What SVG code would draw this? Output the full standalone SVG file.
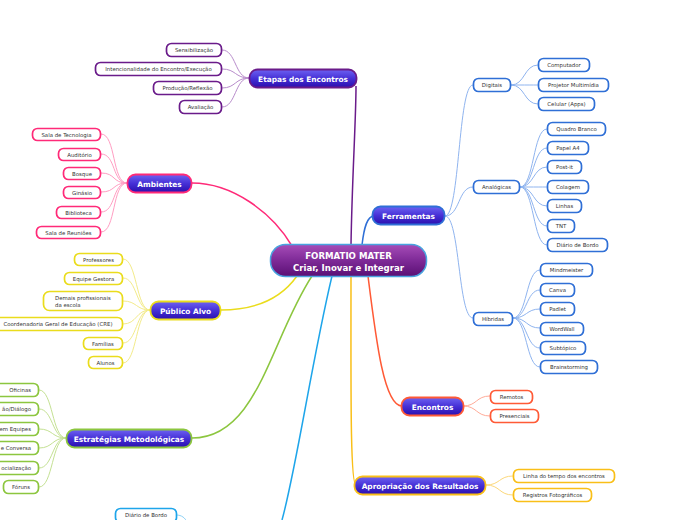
<svg xmlns="http://www.w3.org/2000/svg" width="696" height="520" viewBox="0 0 696 520">
<defs>
<linearGradient id="gMain" x1="0" y1="0" x2="0" y2="1">
<stop offset="0" stop-color="#6d62f2"/>
<stop offset="0.5" stop-color="#4630d6"/>
<stop offset="1" stop-color="#2a0fae"/>
</linearGradient>
<linearGradient id="gCenter" x1="0" y1="0" x2="0" y2="1">
<stop offset="0" stop-color="#a64cb8"/>
<stop offset="0.5" stop-color="#7e2a97"/>
<stop offset="1" stop-color="#5a0f74"/>
</linearGradient>
<style>
.main rect{fill:url(#gMain);stroke-width:1.8}
.main text{fill:#fff;font-family:"DejaVu Sans",Verdana,sans-serif;font-weight:bold;font-size:7.4px;text-anchor:middle}
.leaf rect{fill:#fff;stroke-width:1.7}
.leaf text{fill:#333;font-family:"DejaVu Sans",Verdana,sans-serif;font-size:5.4px;text-anchor:middle}
.c{fill:none}
.p{stroke:#6a1b8a}.pk{stroke:#ff2a78}.y{stroke:#eadc1c}.g{stroke:#8cc63f}.cy{stroke:#1ea5ea}.b{stroke:#2f6fd6}.o{stroke:#ff5a36}.a{stroke:#f9bf18}
.m{stroke-width:1.5}
.s{stroke-width:1}
.p2{stroke:#b88ccb}.pk2{stroke:#ff9dc2}.y2{stroke:#f3eb8a}.g2{stroke:#c4e193}.cy2{stroke:#8fd2f5}.b2{stroke:#8fb4ef}.o2{stroke:#ffab98}.a2{stroke:#fcd87a}
</style>
</defs>
<g id="connectors">
<path class="c m p" d="M351,245 C352,180 356,120 356,86"/>
<path class="c m pk" d="M292,246 C272,212 232,183 192,183"/>
<path class="c m b" d="M362,245 C364,228 367,216 374,216"/>
<path class="c m y" d="M297,276 C280,300 252,310 221,310"/>
<path class="c m g" d="M312,276 C270,340 258,438 192,438"/>
<path class="c m cy" d="M332,276 C312,360 296,470 282,520"/>
<path class="c m a" d="M351,276 C351,380 350,485 356,485"/>
<path class="c m o" d="M368,276 C376,340 384,406 402,406"/>
<path class="c s p2" d="M249,78 C235,78 236,50 222,50"/>
<path class="c s p2" d="M249,78 C235,78 236,69 222,69"/>
<path class="c s p2" d="M249,78 C235,78 236,88 222,88"/>
<path class="c s p2" d="M249,78 C235,78 236,107 222,107"/>
<path class="c s pk2" d="M127,183 C112,183 116,134 101,134"/>
<path class="c s pk2" d="M127,183 C112,183 116,154 101,154"/>
<path class="c s pk2" d="M127,183 C112,183 116,173 101,173"/>
<path class="c s pk2" d="M127,183 C112,183 116,192 101,192"/>
<path class="c s pk2" d="M127,183 C112,183 116,212 101,212"/>
<path class="c s pk2" d="M127,183 C112,183 116,232 101,232"/>
<path class="c s y2" d="M150,310 C136,310 137,259 123,259"/>
<path class="c s y2" d="M150,310 C136,310 137,278 123,278"/>
<path class="c s y2" d="M150,310 C136,310 137,301 123,301"/>
<path class="c s y2" d="M150,310 C136,310 137,324 123,324"/>
<path class="c s y2" d="M150,310 C136,310 137,343 123,343"/>
<path class="c s y2" d="M150,310 C136,310 137,363 123,363"/>
<path class="c s g2" d="M66,438 C52,438 53,390 39,390"/>
<path class="c s g2" d="M66,438 C52,438 53,409 39,409"/>
<path class="c s g2" d="M66,438 C52,438 53,429 39,429"/>
<path class="c s g2" d="M66,438 C52,438 53,448 39,448"/>
<path class="c s g2" d="M66,438 C52,438 53,468 39,468"/>
<path class="c s g2" d="M66,438 C52,438 53,487 39,487"/>
<path class="c s cy2" d="M176,515 C182,515 185,518 187,522"/>
<path class="c s b2" d="M445,216 C460,216 458,85 473,85"/>
<path class="c s b2" d="M445,216 C460,216 458,187 473,187"/>
<path class="c s b2" d="M445,216 C460,216 458,318 473,318"/>
<path class="c s b2" d="M511,85 C525,85 524,65 538,65"/>
<path class="c s b2" d="M511,85 C525,85 524,85 538,85"/>
<path class="c s b2" d="M511,85 C525,85 524,104 538,104"/>
<path class="c s b2" d="M520,187 C534,187 533,129 547,129"/>
<path class="c s b2" d="M520,187 C534,187 533,148 547,148"/>
<path class="c s b2" d="M520,187 C534,187 533,167 547,167"/>
<path class="c s b2" d="M520,187 C534,187 533,187 547,187"/>
<path class="c s b2" d="M520,187 C534,187 533,206 547,206"/>
<path class="c s b2" d="M520,187 C534,187 533,226 547,226"/>
<path class="c s b2" d="M520,187 C534,187 533,245 547,245"/>
<path class="c s b2" d="M513,318 C527,318 526,270 540,270"/>
<path class="c s b2" d="M513,318 C527,318 526,290 540,290"/>
<path class="c s b2" d="M513,318 C527,318 526,309 540,309"/>
<path class="c s b2" d="M513,318 C527,318 526,328 540,328"/>
<path class="c s b2" d="M513,318 C527,318 526,348 540,348"/>
<path class="c s b2" d="M513,318 C527,318 526,367 540,367"/>
<path class="c s o2" d="M463,406 C477,406 476,396 490,396"/>
<path class="c s o2" d="M463,406 C477,406 476,416 490,416"/>
<path class="c s a2" d="M486,485 C500,485 499,476 513,476"/>
<path class="c s a2" d="M486,485 C500,485 499,495 513,495"/>
</g>

<g id="center">
<rect x="270.5" y="244.5" width="156" height="32" rx="15" fill="url(#gCenter)" stroke="#4aa3df" stroke-width="1.5"/>
<text x="348.5" y="258.5" fill="#fff" font-family="DejaVu Sans, Verdana, sans-serif" font-weight="bold" font-size="8.6" text-anchor="middle">FORMATIO MATER</text>
<text x="348.5" y="270.5" fill="#fff" font-family="DejaVu Sans, Verdana, sans-serif" font-weight="bold" font-size="8.6" text-anchor="middle">Criar, Inovar e Integrar</text>
</g>

<g id="etapas" class="main"><rect x="249.5" y="69.5" width="107" height="18" rx="8" stroke="#6a1b8a"/><text x="303" y="81.5">Etapas dos Encontros</text></g>
<g id="etapas-1" class="leaf"><rect x="166.5" y="43.5" width="55" height="13" rx="5" stroke="#6a1b8a"/><text x="194" y="52">Sensibilização</text></g>
<g id="etapas-2" class="leaf"><rect x="95.5" y="62.5" width="126" height="13" rx="5" stroke="#6a1b8a"/><text x="158.5" y="71">Intencionalidade do Encontro/Execução</text></g>
<g id="etapas-3" class="leaf"><rect x="153.5" y="81.5" width="68" height="13" rx="5" stroke="#6a1b8a"/><text x="187.5" y="90">Produção/Reflexão</text></g>
<g id="etapas-4" class="leaf"><rect x="179.5" y="100.5" width="42" height="13" rx="5" stroke="#6a1b8a"/><text x="200.5" y="109">Avaliação</text></g>

<g id="ambientes" class="main"><rect x="127.5" y="174.5" width="64" height="18" rx="8" stroke="#ff2a78"/><text x="159.5" y="186.5">Ambientes</text></g>
<g id="amb-1" class="leaf"><rect x="32.5" y="128.5" width="68" height="12" rx="5" stroke="#ff2a78"/><text x="66.5" y="136.5">Sala de Tecnologia</text></g>
<g id="amb-2" class="leaf"><rect x="58.5" y="148.5" width="42" height="12" rx="5" stroke="#ff2a78"/><text x="79.5" y="156.5">Auditório</text></g>
<g id="amb-3" class="leaf"><rect x="63.5" y="167.5" width="37" height="12" rx="5" stroke="#ff2a78"/><text x="82" y="175.5">Bosque</text></g>
<g id="amb-4" class="leaf"><rect x="63.5" y="186.5" width="37" height="12" rx="5" stroke="#ff2a78"/><text x="82" y="194.5">Ginásio</text></g>
<g id="amb-5" class="leaf"><rect x="56.5" y="206.5" width="44" height="12" rx="5" stroke="#ff2a78"/><text x="78.5" y="214.5">Biblioteca</text></g>
<g id="amb-6" class="leaf"><rect x="36.5" y="226.5" width="64" height="12" rx="5" stroke="#ff2a78"/><text x="68.5" y="234.5">Sala de Reuniões</text></g>

<g id="publico" class="main"><rect x="150.5" y="301.5" width="70" height="18" rx="8" stroke="#eadc1c"/><text x="185.5" y="313.5">Público Alvo</text></g>
<g id="pub-1" class="leaf"><rect x="74.5" y="253.5" width="48" height="12" rx="5" stroke="#eadc1c"/><text x="98.5" y="261.5">Professores</text></g>
<g id="pub-2" class="leaf"><rect x="64.5" y="272.5" width="58" height="12" rx="5" stroke="#eadc1c"/><text x="93.5" y="280.5">Equipe Gestora</text></g>
<g id="pub-3" class="leaf"><rect x="43.5" y="291.5" width="79" height="19" rx="6" stroke="#eadc1c"/><text x="55" y="299.5" style="text-anchor:start">Demais profissionais</text><text x="55" y="306.5" style="text-anchor:start">da escola</text></g>
<g id="pub-4" class="leaf"><rect x="-6.5" y="317.5" width="129" height="13" rx="5" stroke="#eadc1c"/><text x="58" y="326">Coordenadoria Geral de Educação (CRE)</text></g>
<g id="pub-5" class="leaf"><rect x="83.5" y="337.5" width="39" height="12" rx="5" stroke="#eadc1c"/><text x="103" y="345.5">Famílias</text></g>
<g id="pub-6" class="leaf"><rect x="88.5" y="356.5" width="34" height="12" rx="5" stroke="#eadc1c"/><text x="105.5" y="364.5">Alunos</text></g>

<g id="estrategias" class="main"><rect x="66.5" y="429.5" width="125" height="18" rx="8" stroke="#8cc63f"/><text x="129" y="441.5">Estratégias Metodológicas</text></g>
<g id="est-1" class="leaf"><rect x="-10.5" y="383.5" width="49" height="13" rx="5" stroke="#8cc63f"/><text x="31" y="392" style="text-anchor:end">Oficinas</text></g>
<g id="est-2" class="leaf"><rect x="-10.5" y="402.5" width="49" height="13" rx="5" stroke="#8cc63f"/><text x="31" y="411" style="text-anchor:end">ão/Diálogo</text></g>
<g id="est-3" class="leaf"><rect x="-10.5" y="422.5" width="49" height="13" rx="5" stroke="#8cc63f"/><text x="31" y="431" style="text-anchor:end">em Equipes</text></g>
<g id="est-4" class="leaf"><rect x="-10.5" y="441.5" width="49" height="13" rx="5" stroke="#8cc63f"/><text x="31" y="450" style="text-anchor:end">e Conversa</text></g>
<g id="est-5" class="leaf"><rect x="-10.5" y="461.5" width="49" height="13" rx="5" stroke="#8cc63f"/><text x="31" y="470" style="text-anchor:end">ocialização</text></g>
<g id="est-6" class="leaf"><rect x="3.5" y="480.5" width="35" height="13" rx="5" stroke="#8cc63f"/><text x="21" y="489">Fóruns</text></g>

<g id="diario-cyan" class="leaf"><rect x="115.5" y="508.5" width="61" height="14" rx="5" stroke="#1ea5ea"/><text x="146" y="517">Diário de Bordo</text></g>

<g id="ferramentas" class="main"><rect x="372.5" y="206.5" width="72" height="18" rx="8" stroke="#2f6fd6"/><text x="408.5" y="218.5">Ferramentas</text></g>
<g id="digitais" class="leaf"><rect x="473.5" y="78.5" width="37" height="13" rx="5" stroke="#2f6fd6"/><text x="492" y="87">Digitais</text></g>
<g id="analogicas" class="leaf"><rect x="473.5" y="180.5" width="46" height="13" rx="5" stroke="#2f6fd6"/><text x="496.5" y="189">Analógicas</text></g>
<g id="hibridas" class="leaf"><rect x="473.5" y="312.5" width="39" height="13" rx="5" stroke="#2f6fd6"/><text x="493" y="321">Híbridas</text></g>
<g id="dig-1" class="leaf"><rect x="538.5" y="58.5" width="51" height="13" rx="5" stroke="#2f6fd6"/><text x="564" y="67">Computador</text></g>
<g id="dig-2" class="leaf"><rect x="538.5" y="78.5" width="70" height="13" rx="5" stroke="#2f6fd6"/><text x="573.5" y="87">Projetor Multimídia</text></g>
<g id="dig-3" class="leaf"><rect x="538.5" y="97.5" width="56" height="13" rx="5" stroke="#2f6fd6"/><text x="566.5" y="106">Celular (Apps)</text></g>
<g id="ana-1" class="leaf"><rect x="547.5" y="122.5" width="58" height="13" rx="5" stroke="#2f6fd6"/><text x="576.5" y="131">Quadro Branco</text></g>
<g id="ana-2" class="leaf"><rect x="547.5" y="141.5" width="41" height="13" rx="5" stroke="#2f6fd6"/><text x="568" y="150">Papel A4</text></g>
<g id="ana-3" class="leaf"><rect x="547.5" y="160.5" width="34" height="13" rx="5" stroke="#2f6fd6"/><text x="564.5" y="169">Post-it</text></g>
<g id="ana-4" class="leaf"><rect x="547.5" y="180.5" width="41" height="13" rx="5" stroke="#2f6fd6"/><text x="568" y="189">Colagem</text></g>
<g id="ana-5" class="leaf"><rect x="547.5" y="199.5" width="34" height="13" rx="5" stroke="#2f6fd6"/><text x="564.5" y="208">Linhas</text></g>
<g id="ana-6" class="leaf"><rect x="547.5" y="219.5" width="27" height="13" rx="5" stroke="#2f6fd6"/><text x="561" y="228">TNT</text></g>
<g id="ana-7" class="leaf"><rect x="547.5" y="238.5" width="60" height="13" rx="5" stroke="#2f6fd6"/><text x="577.5" y="247">Diário de Bordo</text></g>
<g id="hib-1" class="leaf"><rect x="540.5" y="263.5" width="52" height="13" rx="5" stroke="#2f6fd6"/><text x="566.5" y="272">Mindmeister</text></g>
<g id="hib-2" class="leaf"><rect x="540.5" y="283.5" width="34" height="13" rx="5" stroke="#2f6fd6"/><text x="557.5" y="292">Canva</text></g>
<g id="hib-3" class="leaf"><rect x="540.5" y="302.5" width="34" height="13" rx="5" stroke="#2f6fd6"/><text x="557.5" y="311">Padlet</text></g>
<g id="hib-4" class="leaf"><rect x="540.5" y="322.5" width="43" height="13" rx="5" stroke="#2f6fd6"/><text x="562" y="331">WordWall</text></g>
<g id="hib-5" class="leaf"><rect x="540.5" y="341.5" width="45" height="13" rx="5" stroke="#2f6fd6"/><text x="563" y="350">Subtópico</text></g>
<g id="hib-6" class="leaf"><rect x="540.5" y="360.5" width="57" height="13" rx="5" stroke="#2f6fd6"/><text x="569" y="369">Brainstorming</text></g>

<g id="encontros" class="main"><rect x="401.5" y="397.5" width="62" height="18" rx="8" stroke="#ff5a36"/><text x="432.5" y="409.5">Encontros</text></g>
<g id="enc-1" class="leaf"><rect x="490.5" y="390.5" width="42" height="13" rx="5" stroke="#ff5a36"/><text x="511.5" y="399">Remotos</text></g>
<g id="enc-2" class="leaf"><rect x="490.5" y="409.5" width="48" height="13" rx="5" stroke="#ff5a36"/><text x="514.5" y="418">Presenciais</text></g>

<g id="apropriacao" class="main"><rect x="354.5" y="476.5" width="131" height="18" rx="8" stroke="#f9bf18"/><text x="420" y="488.5">Apropriação dos Resultados</text></g>
<g id="apr-1" class="leaf"><rect x="513.5" y="469.5" width="101" height="13" rx="5" stroke="#f9bf18"/><text x="564" y="478">Linha do tempo dos encontros</text></g>
<g id="apr-2" class="leaf"><rect x="513.5" y="488.5" width="78" height="13" rx="5" stroke="#f9bf18"/><text x="552.5" y="497">Registros Fotográficos</text></g>
</svg>
